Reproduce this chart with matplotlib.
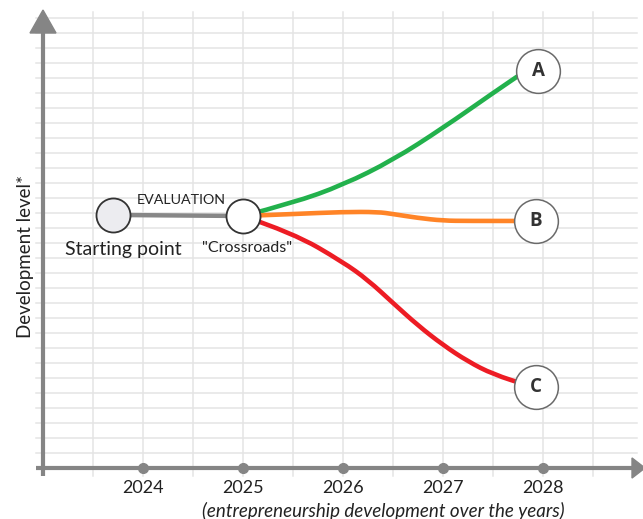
import matplotlib
matplotlib.use("Agg")
import matplotlib.pyplot as plt
from matplotlib.path import Path
from matplotlib.patches import PathPatch, Polygon

plt.rcParams['font.family'] = ['Lato', 'DejaVu Sans']

# ---- data ----
years = [2024, 2025, 2026, 2027, 2028]
year_labels = ["2024", "2025", "2026", "2027", "2028"]

start_point = (2023.70, 16.87)
crossroads = (2025.0, 16.8)

scenario_names = ["A", "B", "C"]
scenario_ends = [(2027.95, 26.47), (2027.93, 16.47), (2027.93, 5.4)]
scenario_colors = ["#22b14c", "#ff8427", "#ed1c24"]

green_x = [2025.0, 2025.5, 2026.0, 2026.5, 2027.0, 2027.5, 2027.82]
green_y = [16.8, 17.67, 18.87, 20.53, 22.67, 25.0, 26.45]

orange_x = [2025.0, 2025.5, 2026.0, 2026.35, 2026.5, 2026.75, 2027.0, 2027.25, 2027.93]
orange_y = [16.8, 16.93, 17.07, 17.07, 16.93, 16.67, 16.49, 16.47, 16.47]

red_x = [2025.0, 2025.5, 2026.0, 2026.25, 2026.5, 2026.75, 2027.0, 2027.25, 2027.5, 2027.85]
red_y = [16.8, 15.67, 13.73, 12.53, 11.0, 9.5, 8.2, 7.1, 6.25, 5.5]

# ---- figure ----
fig = plt.figure(figsize=(6.43, 5.19), dpi=100)
ax = fig.add_axes([0, 0, 1, 1])
ax.set_xlim(2022.57, 2029.0)
ax.set_ylim(-3.4, 31.2)
ax.axis("off")

grid_c = "#e4e4e4"
# horizontal grid rows
for k in range(1, 31):
    ax.plot([2022.93, 2028.94], [k, k], color=grid_c, lw=1.1, zorder=0)
# vertical grid columns (every half year)
for k in range(11):
    gx = 2023.5 + 0.5 * k
    ax.plot([gx, gx], [-0.5, 30.4], color=grid_c, lw=1.1, zorder=0)

axis_c = "#858585"
# axes lines
ax.plot([2023.0, 2023.0], [-0.55, 29.2], color=axis_c, lw=3.0, zorder=2,
        solid_capstyle="butt")
ax.plot([2022.93, 2028.92], [0, 0], color=axis_c, lw=3.0, zorder=2,
        solid_capstyle="butt")
# arrow heads
ax.add_patch(Polygon([[2022.87, 29.0], [2023.13, 29.0], [2023.0, 30.53]],
                     closed=True, color=axis_c, zorder=2))
ax.add_patch(Polygon([[2028.89, 0.67], [2028.89, -0.67], [2029.02, 0]],
                     closed=True, color=axis_c, zorder=2))

# year markers and labels
ax.plot(years, [0] * len(years), "o", color=axis_c, ms=7, zorder=3)
for yv, lab in zip(years, year_labels):
    ax.text(yv, -1.35, lab, ha="center", va="center", fontsize=13, color="#222222")

ax.text(2026.4, -2.85, "(entrepreneurship development over the years)",
        ha="center", va="center", fontsize=13.5, style="italic", color="#222222")
ax.text(2022.83, 14.13, "Development level*", rotation=90, ha="center",
        va="center", fontsize=13.5, color="#222222")


def smooth_path(xs, ys):
    pts = list(zip(xs, ys))
    verts = [pts[0]]
    codes = [Path.MOVETO]
    for i in range(1, len(pts) - 1):
        mid = ((pts[i][0] + pts[i + 1][0]) / 2, (pts[i][1] + pts[i + 1][1]) / 2)
        verts += [pts[i], mid]
        codes += [Path.CURVE3, Path.CURVE3]
    verts.append(pts[-1])
    codes.append(Path.LINETO)
    return Path(verts, codes)


for xs, ys, col in zip([green_x, orange_x, red_x], [green_y, orange_y, red_y],
                       scenario_colors):
    ax.add_patch(PathPatch(smooth_path(xs, ys), facecolor="none", edgecolor=col,
                           lw=3.3, capstyle="round", zorder=4))

# evaluation segment
ax.plot([start_point[0], crossroads[0]], [start_point[1], crossroads[1]],
        color="#878787", lw=3.2, zorder=4)
ax.text((start_point[0] + crossroads[0]) / 2 + 0.03, 17.85, "EVALUATION",
        ha="center", va="center", fontsize=10.3, color="#222222")

# start and crossroads nodes
ax.plot(*start_point, "o", ms=24.5, mfc="#ececf0", mec="#333333", mew=1.3, zorder=5)
ax.plot(*crossroads, "o", ms=24.5, mfc="white", mec="#333333", mew=1.3, zorder=5)
ax.text(2023.80, 14.6, "Starting point", ha="center", va="center",
        fontsize=14, color="#222222")
ax.text(2025.04, 14.67, '"Crossroads"', ha="center", va="center",
        fontsize=11.5, color="#222222")

# scenario end nodes
for name, (ex, ey) in zip(scenario_names, scenario_ends):
    ax.plot(ex, ey, "o", ms=31.5, mfc="white", mec="#6a6a6a", mew=1.1, zorder=5)
    ax.text(ex, ey, name, ha="center", va="center", fontsize=13.5,
            fontweight="bold", color="#333333", zorder=6,
            family=["Open Sans", "DejaVu Sans"])

fig.savefig("out.png", dpi=100)
